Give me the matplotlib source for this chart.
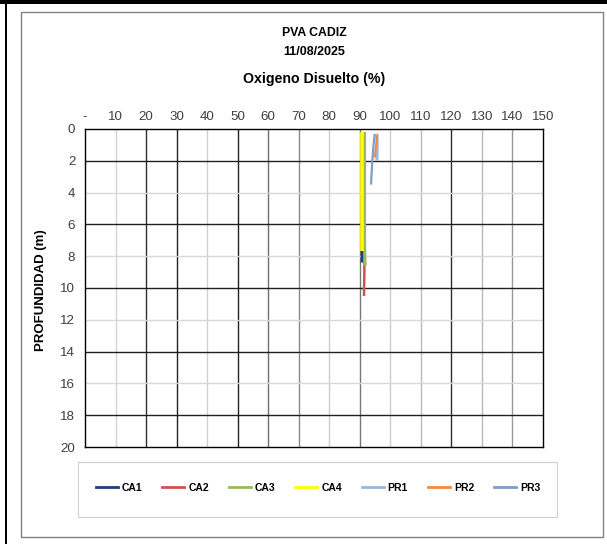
import matplotlib
matplotlib.use("Agg")
import matplotlib.pyplot as plt
from matplotlib.patches import Rectangle
from matplotlib.lines import Line2D

plt.rcParams['font.family'] = ['Liberation Sans', 'DejaVu Sans']

# ---- data ----
series_names = ["CA1", "CA2", "CA3", "CA4", "PR1", "PR2", "PR3"]
ca1_depth = [0.2, 1, 2, 3, 4, 5, 6, 7, 8, 8.4]
ca1_do = [90.9, 90.9, 90.9, 90.9, 90.9, 90.9, 90.8, 90.8, 90.7, 90.7]
ca2_depth = [0.2, 1, 2, 3, 4, 5, 6, 7, 8, 9, 10, 10.5]
ca2_do = [91.5, 91.5, 91.5, 91.5, 91.5, 91.5, 91.5, 91.5, 91.5, 91.5, 91.4, 91.4]
ca3_depth = [0.2, 1, 2, 3, 4, 5, 6, 7, 8, 8.6]
ca3_do = [91.6, 91.6, 91.6, 91.6, 91.6, 91.6, 91.6, 91.6, 91.7, 91.8]
ca4_depth = [0.2, 1, 2, 3, 4, 5, 6, 7, 7.7]
ca4_do = [90.8, 90.8, 90.8, 90.8, 90.8, 90.8, 90.8, 90.8, 90.8]
pr1_depth = [0.4, 1.0, 2.0]
pr1_do = [95.6, 95.7, 95.6]
pr2_depth = [0.3, 0.6, 1.2, 1.8]
pr2_do = [95.8, 95.6, 95.2, 94.9]
pr3_depth = [0.3, 1.0, 2.0, 3.0, 3.5]
pr3_do = [94.9, 94.5, 94.1, 93.8, 93.7]

x_ticks = [0, 10, 20, 30, 40, 50, 60, 70, 80, 90, 100, 110, 120, 130, 140, 150]
x_tick_labels = ["-", "10", "20", "30", "40", "50", "60", "70", "80", "90",
                 "100", "110", "120", "130", "140", "150"]
y_ticks = [0, 2, 4, 6, 8, 10, 12, 14, 16, 18, 20]

title_1 = "PVA CADIZ"
title_2 = "11/08/2025"
title_3 = "Oxigeno Disuelto (%)"
y_label = "PROFUNDIDAD (m)"

# ---- styles ----
colors = ["#1f3f77", "#d0524e", "#9bbb59", "#ffff00", "#9bb7dc", "#f08a3e", "#7f9ccf"]
widths = [1.8, 1.8, 2.0, 2.6, 2.2, 1.4, 1.6]
vgrid_colors = ["#d4d4d4", "#303030", "#202020", "#d0d0d0", "#202020", "#707070",
                "#888888", "#cccccc", "#777777", "#cccccc", "#bbbbbb", "#303030",
                "#bbbbbb", "#999999"]
hgrid_colors = ["#202020", "#d8d8d8", "#202020", "#d8d8d8", "#202020",
                "#d8d8d8", "#202020", "#d8d8d8", "#202020"]

W, H = 607, 544
fig = plt.figure(figsize=(W / 100, H / 100), dpi=100)

# outer decorations
fig.patches.append(Rectangle((0, 1 - 3.5 / H), 1, 3.5 / H, transform=fig.transFigure,
                             facecolor="black", edgecolor="none", zorder=-2))
fig.patches.append(Rectangle((5 / W, 0), 2.3 / W, 1, transform=fig.transFigure,
                             facecolor="black", edgecolor="none", zorder=-2))
fig.patches.append(Rectangle((21 / W, 1 - 537 / H), (603 - 21) / W, (537 - 12) / H,
                             transform=fig.transFigure, facecolor="white",
                             edgecolor="#808080", linewidth=1.0, zorder=-2))
fig.patches.append(Rectangle((78 / W, 1 - 517 / H), (557 - 78) / W, (517 - 462) / H,
                             transform=fig.transFigure, facecolor="white",
                             edgecolor="#d0d0d0", linewidth=0.8, zorder=-1))

ax = fig.add_axes([85 / W, 1 - 447 / H, (543 - 85) / W, (447 - 129) / H])

all_depths = [ca1_depth, ca2_depth, ca3_depth, ca4_depth, pr1_depth, pr2_depth, pr3_depth]
all_do = [ca1_do, ca2_do, ca3_do, ca4_do, pr1_do, pr2_do, pr3_do]

# grid
for xv, c in zip(x_ticks[1:-1], vgrid_colors[:len(x_ticks) - 2]):
    ax.axvline(xv, color=c, linewidth=1.0, zorder=1)
for yv, c in zip(y_ticks[1:-1], hgrid_colors):
    ax.axhline(yv, color=c, linewidth=1.0, zorder=1)

for name, d, v, c, lw in zip(series_names, all_depths, all_do, colors, widths):
    ax.plot(v, d, color=c, linewidth=lw, solid_capstyle="butt", zorder=3, label=name)

ax.set_xlim(0, 150)
ax.set_ylim(20, 0)
ax.xaxis.tick_top()
ax.set_xticks(x_ticks)
ax.set_xticklabels(x_tick_labels)
ax.set_yticks(y_ticks)
ax.tick_params(axis="both", length=0, labelsize=9.6, colors="#404040")
ax.tick_params(axis="x", pad=4)
ax.tick_params(axis="y", pad=7)
for s in ax.spines.values():
    s.set_color("black")
    s.set_linewidth(1.0)

ax.set_ylabel(y_label, fontsize=9.5, fontweight="bold", labelpad=0, color="black")
ax.yaxis.set_label_coords((47 - 85) / (543 - 85), 0.494)

fig.text(314 / W, 1 - 33 / H, title_1, ha="center", va="center", fontsize=8.8, fontweight="bold")
fig.text(314 / W, 1 - 52 / H, title_2, ha="center", va="center", fontsize=9.0, fontweight="bold")
fig.text(314 / W, 1 - 79 / H, title_3, ha="center", va="center", fontsize=10.2, fontweight="bold")

handles = [Line2D([0], [0], color=c, linewidth=2.0) for c in colors]
fig.legend(handles, series_names, loc="center", ncol=7,
           bbox_to_anchor=(318 / W, 1 - 488 / H), frameon=False,
           prop={"size": 7.5, "weight": "bold"}, handlelength=2.1,
           handletextpad=0.4, columnspacing=1.9)

fig.savefig("out.png", dpi=100)
